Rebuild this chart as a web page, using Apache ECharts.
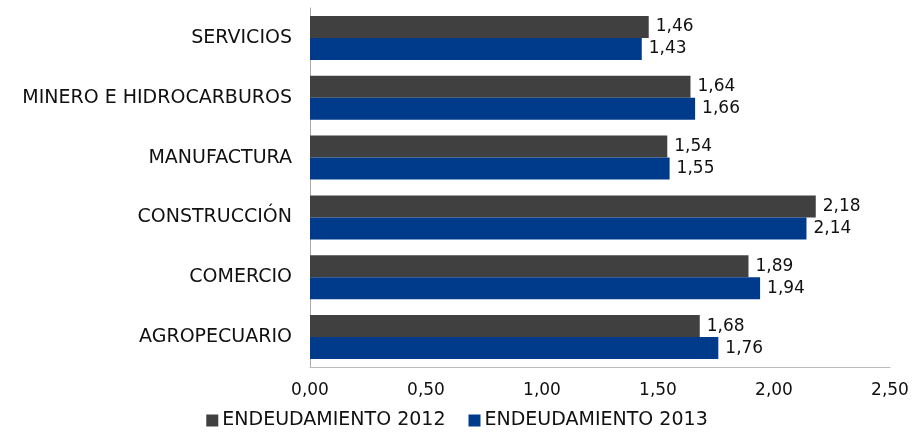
<!DOCTYPE html>
<html>
<head>
<meta charset="utf-8">
<script src="https://cdn.jsdelivr.net/npm/echarts@6/dist/echarts.min.js"></script>
<style>
  html, body { margin: 0; padding: 0; background: #fff; }
  #chart { width: 914px; height: 434px; }
</style>
</head>
<body>
<div id="chart"></div>
<script>
// categories, top to bottom
const categories = ['SERVICIOS', 'MINERO E HIDROCARBUROS', 'MANUFACTURA', 'CONSTRUCCIÓN', 'COMERCIO', 'AGROPECUARIO'];
const seriesNames = ['ENDEUDAMIENTO 2012', 'ENDEUDAMIENTO 2013'];
const values2012 = [1.46, 1.64, 1.54, 2.18, 1.89, 1.68];
const values2013 = [1.43, 1.66, 1.55, 2.14, 1.94, 1.76];

const fmt = v => v.toFixed(2).replace('.', ',');
const font = "'DejaVu Sans'";

const chart = echarts.init(document.getElementById('chart'));
const labelStyle = {
  show: true, position: 'right', distance: 7,
  color: '#111', fontSize: 17, fontFamily: font,
  formatter: p => fmt(p.value)
};
chart.setOption({
  animation: false,
  textStyle: { fontFamily: font },
  grid: { left: 310, right: 24, top: 8, bottom: 67 },
  legend: {
    data: seriesNames, bottom: -1, left: 'center',
    itemWidth: 12, itemHeight: 12, itemGap: 23,
    icon: 'rect',
    textStyle: { fontSize: 19, color: '#111', fontFamily: font, padding: [0, 0, 0, -1] }
  },
  xAxis: {
    type: 'value', min: 0, max: 2.5, interval: 0.5,
    axisLine: { show: true, lineStyle: { color: '#bbb' } },
    axisTick: { show: false },
    splitLine: { show: false },
    axisLabel: { fontSize: 17, color: '#111', margin: 15, fontFamily: font, formatter: v => fmt(v) }
  },
  yAxis: {
    type: 'category', data: categories, inverse: true,
    axisLine: { lineStyle: { color: '#aaa' } },
    axisTick: { show: false },
    axisLabel: { fontSize: 19, color: '#111', margin: 18, fontFamily: font }
  },
  series: [
    { name: seriesNames[0], type: 'bar', data: values2012, barWidth: 22, barGap: '0%',
      itemStyle: { color: '#404040' }, label: labelStyle },
    { name: seriesNames[1], type: 'bar', data: values2013, barWidth: 22,
      itemStyle: { color: '#003a8a' }, label: labelStyle }
  ]
});
</script>
</body>
</html>
